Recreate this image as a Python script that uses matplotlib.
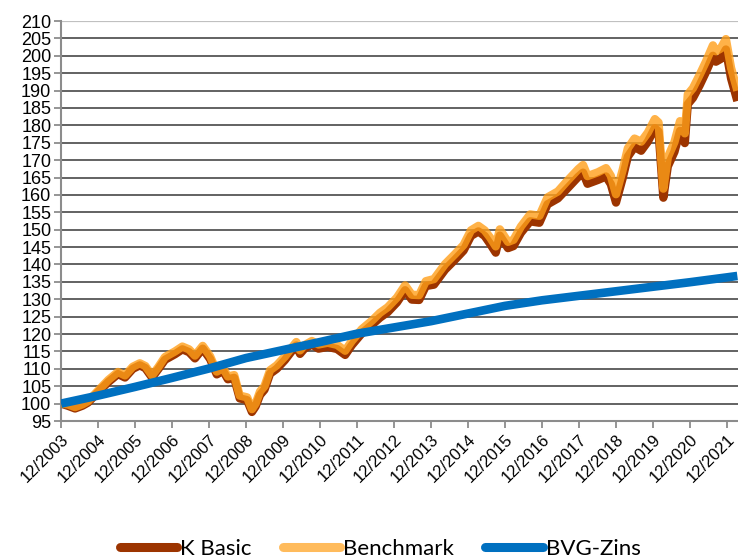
import matplotlib
matplotlib.use("Agg")
import matplotlib.pyplot as plt
from matplotlib.lines import Line2D

# ---- data (decimal years) ----
t_fund = [2003.92, 2004.10, 2004.30, 2004.50, 2004.65, 2004.92, 2005.20, 2005.46, 2005.65, 2005.86,
          2006.05, 2006.20, 2006.38, 2006.55, 2006.73, 2007.00, 2007.20, 2007.38, 2007.54, 2007.75,
          2007.95, 2008.13, 2008.30, 2008.43, 2008.60, 2008.75, 2008.95, 2009.08, 2009.18, 2009.30,
          2009.42, 2009.57, 2009.75, 2009.97, 2010.15, 2010.28, 2010.38, 2010.50, 2010.70, 2010.88,
          2011.13, 2011.38, 2011.60, 2011.78, 2012.05, 2012.32, 2012.54, 2012.75, 2013.00, 2013.22,
          2013.40, 2013.60, 2013.78, 2014.00, 2014.30, 2014.57, 2014.80, 2015.00, 2015.20, 2015.37,
          2015.52, 2015.67, 2015.78, 2016.00, 2016.15, 2016.35, 2016.60, 2016.85, 2017.07, 2017.35,
          2017.60, 2017.90, 2018.03, 2018.15, 2018.43, 2018.65, 2018.78, 2018.92, 2019.10, 2019.24,
          2019.42, 2019.60, 2019.78, 2019.97, 2020.07, 2020.20, 2020.32, 2020.50, 2020.65, 2020.78,
          2020.86, 2021.00, 2021.18, 2021.35, 2021.54, 2021.62, 2021.75, 2021.89, 2022.03, 2022.20]

k_basic = [100.0, 99.4, 98.6, 99.4, 100.3, 103.3, 106.2, 108.5, 107.5, 110.0,
           111.0, 110.2, 107.5, 109.9, 112.6, 114.2, 115.6, 114.8, 113.0, 115.8,
           112.8, 108.4, 109.4, 107.0, 107.4, 101.5, 101.0, 97.6, 99.2, 102.5,
           104.0, 108.6, 110.0, 112.5, 115.0, 116.7, 114.3, 115.8, 117.0, 115.8,
           116.3, 115.7, 114.0, 116.8, 120.2, 122.6, 124.7, 126.3, 129.1, 132.6,
           129.9, 129.8, 133.8, 134.2, 138.5, 141.4, 144.0, 148.2, 149.5, 148.2,
           145.9, 143.4, 148.3, 144.7, 145.3, 149.1, 152.4, 152.0, 157.3, 159.0,
           161.8, 165.2, 166.4, 163.2, 164.3, 165.3, 163.1, 157.8, 164.8, 171.0,
           173.8, 172.7, 175.3, 179.2, 178.2, 159.2, 168.2, 172.4, 178.4, 174.9,
           186.1, 187.9, 191.5, 195.3, 200.0, 198.3, 199.1, 201.8, 193.5, 187.0]

benchmark = [100.0, 99.8, 99.0, 99.8, 100.7, 103.7, 106.8, 109.1, 108.1, 110.6,
             111.6, 110.8, 108.1, 110.5, 113.4, 115.0, 116.4, 115.6, 113.8, 116.6,
             113.6, 109.2, 110.2, 107.8, 108.2, 102.3, 101.8, 98.4, 100.0, 103.5,
             105.0, 109.6, 111.0, 113.5, 116.0, 117.7, 115.3, 116.8, 118.0, 117.0,
             117.5, 116.9, 115.2, 118.0, 121.4, 123.8, 126.1, 127.7, 130.5, 134.0,
             131.3, 131.2, 135.2, 135.8, 140.1, 143.0, 145.6, 149.8, 151.1, 149.8,
             147.7, 145.2, 150.1, 146.5, 147.1, 150.9, 154.4, 154.0, 159.3, 161.0,
             164.0, 167.4, 168.6, 165.4, 166.5, 167.7, 165.5, 160.2, 167.2, 173.4,
             176.2, 175.3, 177.9, 181.8, 180.8, 161.8, 170.8, 175.2, 181.2, 177.7,
             188.9, 190.7, 194.5, 198.3, 203.0, 201.3, 202.1, 204.8, 196.5, 190.0]

t_bvg = [2003.92, 2004.92, 2005.92, 2006.92, 2007.92, 2008.92, 2009.92, 2010.92, 2011.92, 2012.92,
         2013.92, 2014.92, 2015.92, 2016.92, 2017.92, 2018.92, 2019.92, 2020.92, 2021.92, 2022.20]
bvg_zins = [100.0, 102.3, 104.8, 107.4, 110.1, 113.1, 115.4, 117.7, 120.1, 121.9,
            123.7, 125.9, 128.1, 129.7, 131.0, 132.3, 133.6, 134.9, 136.3, 136.7]

tick_years = [2003.92 + i for i in range(19)]
tick_labels = ["12/%d" % (2003 + i) for i in range(19)]
y_ticks = list(range(95, 211, 5))

# ---- figure ----
fig = plt.figure(figsize=(7.38, 5.6), dpi=100)
ax = fig.add_axes([61 / 738, 1 - 421 / 560, 1 - 61 / 738, 400 / 560])

c_k = "#9C3400"
c_b = "#FFBB5C"
c_bvg = "#0070C0"

ax.plot(t_fund, k_basic, color=c_k, lw=6.0, solid_joinstyle="round", solid_capstyle="butt", zorder=3)
ax.plot(t_fund, benchmark, color="#FF9F1A", alpha=0.8, lw=6.0, solid_joinstyle="round",
        solid_capstyle="butt", zorder=4)
ax.plot(t_bvg, bvg_zins, color=c_bvg, lw=6.2, solid_joinstyle="round", solid_capstyle="butt", zorder=5)

ax.set_xlim(2003.92, 2003.92 + 677 / 37)
ax.set_ylim(95, 210)
ax.set_yticks(y_ticks)
ax.set_yticklabels([str(v) for v in y_ticks], fontsize=13, family="Liberation Sans")
ax.set_xticks(tick_years)
ax.set_xticklabels(tick_labels, rotation=45, ha="right", va="top", rotation_mode="anchor",
                   fontsize=12, family="Liberation Sans")

ax.yaxis.grid(True, color="#383838", lw=1.1, zorder=1)
ax.set_axisbelow(True)
gl = ax.get_ygridlines()
gl[-1].set_color("#c0c0c0")
gl[-1].set_linewidth(1.6)

for s in ["top", "right"]:
    ax.spines[s].set_visible(False)
for s in ["left", "bottom"]:
    ax.spines[s].set_color("#8c8c8c")
    ax.spines[s].set_linewidth(1.5)
ax.tick_params(axis="both", which="major", direction="out", length=5, width=1.3, color="#8c8c8c")
ax.tick_params(axis="y", pad=2)
ax.tick_params(axis="x", pad=3)

handles = [
    Line2D([0], [0], color=c_k, lw=6.5, solid_capstyle="round"),
    Line2D([0], [0], color=c_b, lw=6.5, solid_capstyle="round"),
    Line2D([0], [0], color=c_bvg, lw=6.5, solid_capstyle="round"),
]
fig.legend(handles, ["K Basic", "Benchmark", "BVG-Zins"], loc="center",
           bbox_to_anchor=(380 / 738, 1 - 549 / 560), ncol=3, frameon=False,
           prop={"family": "Lato", "size": 16}, handlelength=2.6, handletextpad=0.12,
           columnspacing=1.4, borderpad=0, borderaxespad=0)

fig.savefig("out.png", dpi=100)
